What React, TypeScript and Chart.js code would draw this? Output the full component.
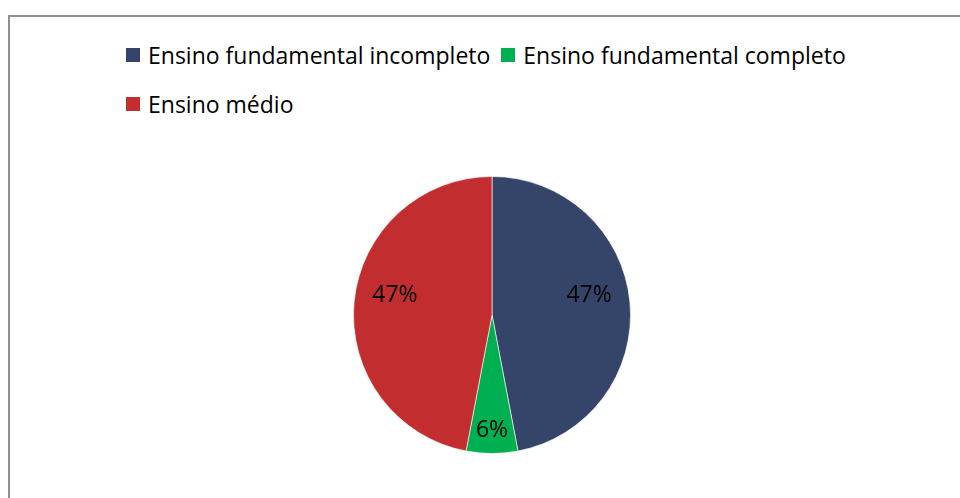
import React, { useEffect, useRef } from "react";
import { Chart, registerables } from "chart.js";

Chart.register(...registerables);

const categories = [
  "Ensino fundamental incompleto",
  "Ensino fundamental completo",
  "Ensino médio",
];
const percentValues = [47, 6, 47];
const sliceColors = ["#354469", "#00AF50", "#C22E2F"];

const FONT = "'Open Sans', Lato, sans-serif";

const pieLabelPlugin = {
  id: "pieLabels",
  afterDatasetsDraw(chart: any) {
    const ctx = chart.ctx;
    const meta = chart.getDatasetMeta(0);
    const data = chart.data.datasets[0].data as number[];
    const total = data.reduce((a, b) => a + b, 0);
    ctx.save();
    ctx.font = `23px ${FONT}`;
    ctx.fillStyle = "#000";
    ctx.textAlign = "center";
    ctx.textBaseline = "middle";
    meta.data.forEach((arc: any, i: number) => {
      const { x, y, startAngle, endAngle, outerRadius } = arc.getProps(
        ["x", "y", "startAngle", "endAngle", "outerRadius"],
        true
      );
      const mid = (startAngle + endAngle) / 2;
      const txt = Math.round((data[i] / total) * 100) + "%";
      const hw = ctx.measureText(txt).width / 2;
      const hh = 5;
      const c = Math.cos(mid);
      const s = Math.sin(mid);
      const extent = hw * Math.abs(c) + hh * Math.abs(s);
      const d = 0.87 * outerRadius - extent;
      const cx = x + d * c;
      const cy = y + d * s - 10 * Math.abs(c);
      ctx.fillText(txt, cx, cy);
    });
    ctx.restore();
  },
};

export default function App() {
  const canvasRef = useRef<HTMLCanvasElement | null>(null);

  useEffect(() => {
    if (!canvasRef.current) return;
    const chart = new Chart(canvasRef.current, {
      type: "pie",
      data: {
        labels: categories,
        datasets: [
          {
            data: percentValues,
            backgroundColor: sliceColors,
            borderColor: "rgba(255,255,255,0.6)",
            borderWidth: 1,
          },
        ],
      },
      options: {
        responsive: false,
        animation: false,
        maintainAspectRatio: false,
        layout: { padding: 0 },
        plugins: {
          legend: { display: false },
          tooltip: { enabled: false },
        },
      },
      plugins: [pieLabelPlugin],
    });
    return () => chart.destroy();
  }, []);

  return (
    <div
      style={{
        position: "absolute",
        left: 0,
        top: 0,
        width: 960,
        height: 498,
        overflow: "hidden",
        background: "#fff",
      }}
    >
      <div
        style={{
          position: "absolute",
          left: 8,
          top: 15,
          width: 1000,
          height: 600,
          borderTop: "2px solid #909090",
          borderLeft: "2px solid #909090",
        }}
      />
      <div
        style={{
          position: "absolute",
          left: 126,
          top: 30,
          width: 750,
          display: "flex",
          flexWrap: "wrap",
          fontFamily: FONT,
          fontSize: 23,
          color: "#000",
        }}
      >
        {categories.map((c, i) => (
          <div
            key={c}
            style={{
              display: "flex",
              alignItems: "center",
              height: 49,
              marginRight: 11,
              whiteSpace: "nowrap",
            }}
          >
            <span
              style={{
                display: "inline-block",
                width: 14,
                height: 14,
                background: sliceColors[i],
                marginRight: 8,
              }}
            />
            <span>{c}</span>
          </div>
        ))}
      </div>
      <canvas
        ref={canvasRef}
        width={278}
        height={278}
        style={{
          position: "absolute",
          left: 353,
          top: 176,
          width: 278,
          height: 278,
        }}
      />
    </div>
  );
}
